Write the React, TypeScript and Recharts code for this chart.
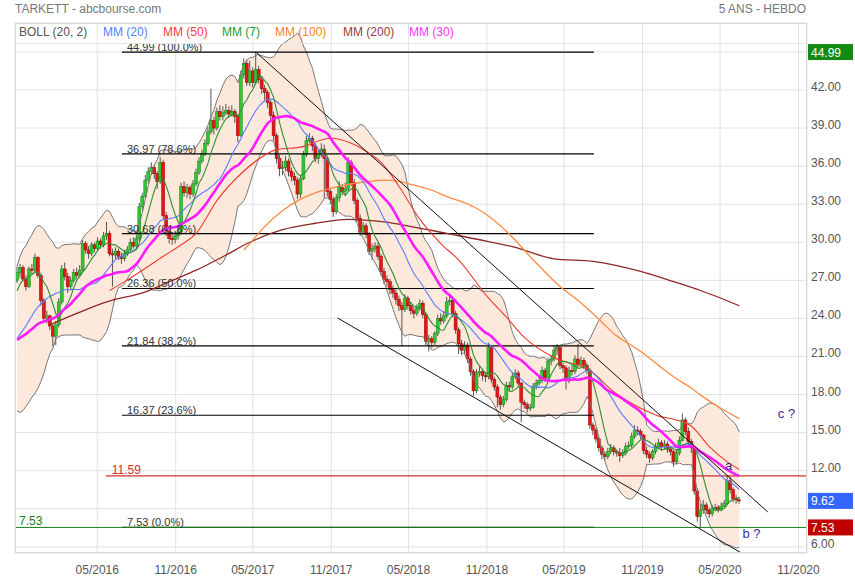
import React from "react";
import {
  ComposedChart,
  Bar,
  Line,
  Area,
  XAxis,
  YAxis,
  CartesianGrid,
  ReferenceLine,
  ReferenceDot,
} from "recharts";

const FONT = "'Liberation Sans', Arial, sans-serif";
const day = (s: string) => Date.parse(s + "T00:00:00Z");
const WEEK = 7 * 86400000;

// weekly candles, first week shown
const firstWeek = "2015-10-26";
const firstOpen = 27.0;

// closes of the weeks before the window (only feed the MM / BOLL at the left edge)
const closesBefore = [
  22.5, 22.8, 22.0, 21.6, 22.4, 22.2, 21.8, 21.9, 22.0, 21.5,
  21.0, 20.5, 20.0, 19.8, 20.2, 20.8, 21.2, 20.6, 20.0, 19.6,
  20.2, 20.8, 20.5, 24.0, 25.0, 26.0, 26.5, 26.8, 27.2,
];

const closes = [
  27.6, 28.0, 27.1, 26.5, 27.9, 27.8, 28.8, 27.4, 25.4, 24.0,
  24.2, 23.4, 22.6, 23.5, 25.3, 27.9, 27.3, 26.5, 27.0, 27.6,
  27.4, 27.8, 29.9, 29.4, 29.1, 29.8, 29.5, 30.1, 29.8, 30.5,
  30.7, 29.1, 29.0, 29.3, 28.9, 28.7, 29.1, 29.4, 30.0, 29.7,
  30.3, 32.8, 33.6, 34.9, 35.6, 35.9, 35.4, 34.8, 36.3, 32.1,
  30.9, 30.3, 30.2, 30.5, 30.8, 34.4, 33.9, 34.3, 33.8, 34.6,
  35.5, 36.4, 37.0, 37.8, 38.7, 39.6, 39.0, 40.3, 39.9, 40.2,
  40.4, 40.1, 40.3, 39.9, 38.4, 43.2, 44.1, 42.6, 43.5, 42.6,
  43.6, 42.8, 42.1, 41.8, 41.0, 40.0, 38.4, 36.6, 35.8, 35.9,
  36.4, 35.6, 35.2, 34.9, 33.8, 35.0, 36.9, 38.0, 38.2, 37.6,
  36.6, 36.9, 37.3, 36.6, 34.0, 33.4, 32.4, 33.5, 34.3, 34.0,
  34.2, 36.3, 34.7, 33.3, 31.9, 30.8, 31.3, 30.6, 29.3, 29.5,
  29.7, 28.9, 27.7, 27.1, 26.9, 26.3, 26.0, 25.5, 25.0, 24.7,
  25.6, 25.0, 24.6, 24.4, 24.8, 25.2, 24.3, 22.2, 22.4, 22.1,
  22.8, 24.0, 23.8, 24.2, 25.3, 25.4, 24.4, 23.1, 22.0, 21.5,
  21.9, 20.8, 19.8, 18.3, 19.7, 19.8, 19.5, 19.4, 21.7, 19.2,
  18.6, 17.8, 17.2, 17.6, 18.7, 18.6, 19.4, 19.7, 18.9, 17.4,
  17.2, 16.9, 17.0, 18.6, 18.9, 19.1, 19.9, 19.3, 20.6, 20.8,
  21.5, 21.7, 20.3, 20.1, 19.1, 19.9, 19.8, 20.8, 20.4, 20.7,
  20.3, 19.9, 15.6, 15.2, 14.5, 13.8, 13.3, 13.1, 13.5, 13.8,
  13.5, 13.4, 13.2, 13.4, 13.9, 14.0, 14.7, 15.2, 15.1, 14.8,
  13.6, 13.3, 13.0, 13.5, 13.9, 14.2, 13.9, 14.1, 13.7, 13.5,
  12.7, 13.4, 14.4, 16.0, 15.1, 14.3, 13.8, 10.4, 8.4, 8.9,
  9.3, 8.9, 8.6, 9.0, 9.1, 8.9, 9.2, 9.4, 11.2, 10.5,
  9.8, 9.7, 9.62,
];

const highs = [
  28.1, 28.3, 28.2, 27.4, 28.1, 28.3, 29.1, 28.9, 27.6, 25.6,
  24.6, 24.3, 23.6, 23.8, 25.6, 28.2, 28.4, 27.6, 27.3, 27.9,
  28.0, 28.2, 30.2, 30.1, 29.7, 30.0, 30.0, 30.4, 30.3, 30.8,
  31.6, 30.9, 29.5, 29.6, 29.5, 29.2, 29.4, 29.7, 30.3, 30.4,
  30.6, 33.1, 33.9, 35.3, 35.9, 36.3, 36.1, 35.6, 36.7, 36.5,
  32.4, 31.2, 30.8, 30.9, 31.2, 34.7, 34.8, 34.6, 34.5, 34.9,
  35.8, 36.7, 37.3, 38.1, 39.1, 42.1, 39.9, 40.6, 40.8, 40.7,
  40.9, 40.7, 40.8, 40.5, 40.1, 43.5, 44.5, 44.4, 44.3, 43.8,
  44.99, 43.9, 43.1, 42.4, 42.0, 41.2, 40.3, 38.6, 36.9, 36.4,
  36.8, 36.6, 35.9, 35.5, 35.1, 35.3, 37.2, 38.4, 38.6, 38.4,
  37.8, 37.3, 37.8, 37.7, 36.8, 34.3, 33.6, 33.8, 34.8, 34.6,
  34.7, 36.7, 36.5, 35.0, 33.5, 32.2, 31.6, 31.5, 30.8, 29.9,
  30.0, 30.0, 29.1, 28.0, 27.4, 27.1, 26.6, 26.3, 25.8, 25.3,
  25.9, 25.8, 25.3, 24.9, 25.1, 25.5, 25.4, 24.5, 22.7, 22.6,
  23.0, 24.3, 24.4, 24.6, 25.7, 25.9, 25.6, 24.6, 23.3, 22.3,
  22.2, 22.1, 21.0, 20.0, 20.0, 20.2, 20.0, 19.8, 22.1, 21.9,
  19.4, 18.8, 18.0, 17.9, 19.0, 19.0, 19.7, 20.0, 19.9, 19.0,
  17.6, 17.4, 17.3, 18.9, 19.2, 19.4, 20.2, 20.1, 20.9, 21.1,
  21.9, 22.0, 21.8, 20.5, 20.3, 20.2, 20.3, 21.1, 22.0, 21.0,
  20.9, 20.5, 20.1, 15.8, 15.4, 14.7, 14.0, 13.5, 13.8, 14.1,
  14.0, 13.7, 13.8, 13.7, 14.2, 14.3, 15.0, 15.6, 15.5, 15.3,
  14.9, 13.9, 13.5, 13.7, 14.2, 14.5, 14.4, 14.4, 14.3, 13.9,
  13.6, 13.7, 14.7, 16.5, 16.2, 15.4, 14.5, 13.9, 10.6, 9.4,
  9.7, 9.5, 9.1, 9.3, 9.4, 9.3, 9.5, 9.7, 11.6, 11.5,
  10.7, 10.1, 9.9,
];

const lows = [
  26.8, 27.2, 26.9, 26.2, 26.4, 27.5, 27.6, 27.2, 25.0, 23.8,
  23.6, 23.1, 21.8, 21.9, 23.3, 25.1, 27.0, 26.0, 26.2, 26.8,
  27.1, 27.2, 27.7, 29.1, 28.7, 28.9, 29.2, 29.3, 29.5, 29.6,
  30.2, 28.9, 26.5, 28.7, 28.6, 28.3, 28.5, 28.9, 29.2, 29.5,
  29.5, 30.1, 32.5, 33.4, 34.6, 35.3, 35.0, 34.2, 34.6, 31.8,
  30.5, 29.9, 29.8, 29.9, 30.2, 30.6, 33.6, 33.5, 33.4, 33.6,
  34.4, 35.3, 36.2, 36.8, 37.6, 38.5, 38.5, 38.8, 39.6, 39.6,
  40.0, 39.8, 39.9, 39.4, 37.9, 38.3, 42.9, 42.3, 42.3, 42.2,
  42.4, 42.5, 41.7, 41.2, 40.6, 39.7, 38.0, 36.2, 35.2, 35.3,
  35.6, 35.2, 34.8, 34.5, 33.4, 33.5, 34.9, 36.7, 37.8, 37.2,
  36.3, 36.2, 36.7, 33.5, 33.6, 33.0, 32.0, 32.2, 33.2, 33.7,
  33.8, 34.0, 34.4, 33.0, 31.6, 30.5, 30.6, 30.3, 29.0, 28.6,
  29.2, 28.6, 27.4, 26.7, 26.5, 25.9, 25.6, 25.1, 24.6, 21.8,
  24.5, 24.7, 24.3, 24.0, 24.2, 24.6, 24.0, 21.9, 21.4, 21.7,
  21.9, 22.6, 23.5, 23.6, 24.0, 25.0, 24.1, 22.8, 21.2, 21.1,
  21.2, 20.5, 19.5, 17.9, 18.1, 19.4, 19.1, 19.0, 19.2, 18.9,
  18.3, 17.0, 16.8, 17.0, 17.4, 18.3, 18.4, 19.2, 18.6, 15.8,
  16.9, 16.6, 16.7, 16.9, 18.4, 18.7, 18.9, 19.0, 19.1, 20.3,
  20.6, 21.1, 20.0, 19.7, 18.4, 18.9, 19.5, 19.6, 20.1, 20.2,
  20.0, 19.6, 15.3, 14.8, 14.2, 13.5, 12.9, 12.8, 12.9, 13.3,
  13.2, 13.1, 12.7, 13.0, 13.2, 13.7, 13.8, 14.5, 14.8, 14.5,
  13.3, 13.0, 12.6, 12.8, 13.3, 13.7, 13.6, 13.7, 13.4, 13.2,
  12.3, 12.5, 13.2, 14.3, 14.8, 14.0, 13.4, 10.1, 8.0, 7.53,
  8.6, 8.6, 8.3, 8.4, 8.8, 8.7, 8.8, 9.1, 9.3, 10.2,
  9.5, 9.4, 9.4,
];

// long averages: [week index, value]
const mm50Points = [
  [31, 26.2], [36, 26.9], [42, 27.8], [49, 28.9], [55, 29.8], [60, 30.7],
  [67, 33.3], [75, 35.4], [80, 36.4], [87, 37.3], [95, 37.5], [105, 38.2],
  [112, 37.8], [118, 37.0], [122, 36.3], [128, 34.4], [135, 31.8], [142, 29.9],
  [148, 28.6], [158, 25.6], [164, 24.1], [170, 22.5], [180, 20.9], [192, 19.9],
  [200, 18.2], [210, 16.8], [215, 16.3], [221, 16.0], [226, 15.5], [232, 13.9],
  [238, 12.7], [242, 12.1],
];
const mm100Points = [
  [76, 29.4], [78, 29.9], [82, 31.0], [89, 32.5], [95, 33.4], [100, 33.9],
  [106, 34.3], [112, 34.6], [118, 34.8], [123, 34.9], [128, 34.8], [133, 34.5],
  [139, 34.1], [144, 33.6], [149, 33.2], [153, 32.8], [160, 31.7], [166, 30.4],
  [173, 28.6], [178, 27.4], [182, 26.5], [187, 25.6], [191, 24.8], [196, 23.7],
  [200, 22.8], [205, 22.0], [209, 21.4], [215, 20.3], [220, 19.4], [226, 18.5],
  [230, 17.8], [236, 16.9], [242, 16.1],
];
const mm200Points = [
  [11, 23.5], [20, 24.4], [30, 25.3], [43, 26.1], [52, 27.0], [60, 27.8],
  [70, 29.0], [78, 30.0], [89, 31.0], [100, 31.5], [111, 31.8], [123, 31.6],
  [133, 31.2], [144, 30.7], [155, 30.2], [166, 29.65], [180, 28.7], [193, 28.5],
  [209, 27.7], [220, 26.9], [229, 26.2], [242, 25.0],
];

const xTicks = [
  "2016-05-01", "2016-11-01", "2017-05-01", "2017-11-01", "2018-05-01",
  "2018-11-01", "2019-05-01", "2019-11-01", "2020-05-01", "2020-11-01",
];
const yTicks = [6, 9, 12, 15, 18, 21, 24, 27, 30, 33, 36, 39, 42, 45];

const fibLevels = [44.99, 36.97, 30.68, 26.36, 21.84, 16.37, 7.53];
const fibPercents = ["100.0%", "78.6%", "61.8%", "50.0%", "38.2%", "23.6%", "0.0%"];
const fibFrom = "2016-06-28";
const fibTo = "2019-07-10";

// hand drawn trend channel
const channelLines = [
  [["2017-05-08", 44.99], ["2020-08-21", 8.75]],
  [["2017-11-16", 24.03], ["2020-06-28", 5.36]],
];

const notes = [
  { date: "2020-05-21", value: 12.45, text: "a" },
  { date: "2020-10-04", value: 16.55, text: "c ?" },
  { date: "2020-07-14", value: 7.09, text: "b ?" },
];

const legendItems = [
  { label: "BOLL (20, 2)", color: "#555", left: 19 },
  { label: "MM (20)", color: "#4f7fff", left: 103 },
  { label: "MM (50)", color: "#ff3b3b", left: 163 },
  { label: "MM (7)", color: "#1f9a1f", left: 222 },
  { label: "MM (100)", color: "#ff7f27", left: 275 },
  { label: "MM (200)", color: "#a33a3a", left: 343 },
  { label: "MM (30)", color: "#ff33ff", left: 409 },
];

const X_MIN = day("2015-10-21");
const X_MAX = day("2020-11-21");
const Y_MIN = 5.515;
const Y_MAX = 47.28;

const allCloses = [...closesBefore, ...closes];
const off = closesBefore.length;

function sma(n: number, k: number) {
  if (k - n + 1 < 0) return null;
  let s = 0;
  for (let j = k - n + 1; j <= k; j++) s += allCloses[j];
  return s / n;
}

function stdev(n: number, k: number, mean: number) {
  let s = 0;
  for (let j = k - n + 1; j <= k; j++) s += (allCloses[j] - mean) ** 2;
  return Math.sqrt(s / n);
}

const t0 = day(firstWeek);
const data: any[] = closes.map((c, i) => {
  const k = i + off;
  const m20 = sma(20, k) as number;
  const sd = stdev(20, k, m20);
  return {
    t: t0 + i * WEEK,
    o: i === 0 ? firstOpen : closes[i - 1],
    c,
    hl: [lows[i], highs[i]],
    mm7: sma(7, k),
    mm20: m20,
    mm30: sma(30, k),
    band: [m20 - 2 * sd, m20 + 2 * sd],
    bbUp: m20 + 2 * sd,
    bbLow: m20 - 2 * sd,
  };
});
mm50Points.forEach(([i, v]) => (data[i].mm50 = v));
mm100Points.forEach(([i, v]) => (data[i].mm100 = v));
mm200Points.forEach(([i, v]) => (data[i].mm200 = v));

function Candle(props: any) {
  const { x, y, width, height, payload } = props;
  if (!payload || height == null || isNaN(y)) return null;
  const [lo, hi] = payload.hl;
  const px = (v: number) => (hi === lo ? y : y + ((hi - v) / (hi - lo)) * height);
  const cx = x + width / 2;
  const up = payload.c >= payload.o;
  const top = px(Math.max(payload.o, payload.c));
  const bot = px(Math.min(payload.o, payload.c));
  return (
    <g>
      <line x1={cx} x2={cx} y1={y} y2={y + height} stroke="#555" strokeWidth={1} />
      <rect
        x={cx - 1.5}
        y={top}
        width={3}
        height={Math.max(bot - top, 1)}
        fill={up ? "#2ec82e" : "#e01818"}
        stroke={up ? "#1b801b" : "#a00000"}
        strokeWidth={0.5}
      />
    </g>
  );
}

function TextAt(props: any) {
  const { viewBox, text, dx = 0, dy = 0, color = "#333", size = 11, anchor = "start" } = props;
  if (!viewBox) return null;
  return (
    <text
      x={viewBox.x + dx}
      y={viewBox.y + dy}
      fill={color}
      fontSize={size}
      fontFamily={FONT}
      textAnchor={anchor}
    >
      {text}
    </text>
  );
}

function PriceBox(props: any) {
  const { viewBox, text, bg } = props;
  if (!viewBox) return null;
  return (
    <g>
      <rect x={viewBox.x + 1} y={viewBox.y - 8} width={45} height={16} fill={bg} />
      <text x={viewBox.x + 4} y={viewBox.y + 4.5} fill="#fff" fontSize={12} fontFamily={FONT}>
        {text}
      </text>
    </g>
  );
}

function RightTick(props: any) {
  const { x, y, payload } = props;
  if (payload.value === 45 || payload.value === 9) return <g />;
  return (
    <text x={x} y={y} dy={1} fill="#555" fontSize={12} fontFamily={FONT} textAnchor="start">
      {payload.value.toFixed(2)}
    </text>
  );
}

const fmtMonth = (t: number) => {
  const d = new Date(t);
  return `${String(d.getUTCMonth() + 1).padStart(2, "0")}/${d.getUTCFullYear()}`;
};

export default function App() {
  return (
    <div style={{ position: "absolute", left: 0, top: 0, width: 855, height: 580, background: "#fff", fontFamily: FONT }}>
      <ComposedChart
        width={855}
        height={580}
        data={data}
        margin={{ top: 23, right: 0, bottom: 0, left: 15 }}
      >
        <CartesianGrid stroke="#e2e2e2" />
        <XAxis
          dataKey="t"
          type="number"
          domain={[X_MIN, X_MAX]}
          allowDataOverflow
          ticks={xTicks.map(day)}
          tickFormatter={fmtMonth}
          height={27}
          axisLine={false}
          tickLine={false}
          tickSize={0}
          tickMargin={12}
          tick={{ fill: "#555", fontSize: 12, fontFamily: FONT }}
        />
        <YAxis
          orientation="right"
          type="number"
          domain={[Y_MIN, Y_MAX]}
          allowDataOverflow
          ticks={yTicks}
          width={48}
          axisLine={false}
          tickLine={false}
          tickSize={0}
          tickMargin={4}
          tick={<RightTick />}
        />

        <Area dataKey="band" fill="#fde8dc" fillOpacity={1} stroke="none" isAnimationActive={false} />
        <Line dataKey="bbUp" stroke="#777" strokeWidth={1} dot={false} isAnimationActive={false} />
        <Line dataKey="bbLow" stroke="#777" strokeWidth={1} dot={false} isAnimationActive={false} />

        {fibLevels.map((v, i) => (
          <ReferenceLine
            key={"fib" + i}
            segment={[
              { x: day(fibFrom), y: v },
              { x: day(fibTo), y: v },
            ]}
            stroke="#000"
            strokeWidth={1.2}
          />
        ))}
        <ReferenceLine segment={[{ x: day("2016-05-21"), y: 11.59 }, { x: X_MAX, y: 11.59 }]} stroke="#c00000" strokeWidth={1} />
        <ReferenceLine y={7.53} stroke="#1a801a" strokeWidth={1} />

        <Bar dataKey="hl" barSize={3} shape={<Candle />} isAnimationActive={false} />

        <Line dataKey="mm200" type="monotone" connectNulls stroke="#8f2626" strokeWidth={1.3} dot={false} isAnimationActive={false} />
        <Line dataKey="mm100" type="monotone" connectNulls stroke="#ff8a3d" strokeWidth={1.3} dot={false} isAnimationActive={false} />
        <Line dataKey="mm50" type="monotone" connectNulls stroke="#f03a2a" strokeWidth={1.1} dot={false} isAnimationActive={false} />
        <Line dataKey="mm20" stroke="#5a7cff" strokeWidth={1.1} dot={false} isAnimationActive={false} />
        <Line dataKey="mm7" stroke="#2d8f2d" strokeWidth={1.1} dot={false} isAnimationActive={false} />
        <Line dataKey="mm30" stroke="#ff1aff" strokeWidth={2.6} dot={false} isAnimationActive={false} />

        {channelLines.map((seg, i) => (
          <ReferenceLine
            key={"ch" + i}
            segment={seg.map(([d, v]) => ({ x: day(d as string), y: v as number }))}
            stroke="#111"
            strokeWidth={1}
            ifOverflow="hidden"
          />
        ))}

        {fibLevels.map((v, i) => (
          <ReferenceDot
            key={"fibl" + i}
            x={day(fibFrom)}
            y={v}
            r={0}
            ifOverflow="visible"
            label={<TextAt text={`${v.toFixed(2)}  (${fibPercents[i]})`} dx={5} dy={-1} color="#333" size={11} />}
          />
        ))}
        <ReferenceDot x={day("2016-05-21")} y={11.59} r={0} label={<TextAt text="11.59" dx={6} dy={-2} color="#d03030" size={12} />} />
        <ReferenceDot x={X_MIN} y={7.53} r={0} ifOverflow="visible" label={<TextAt text="7.53" dx={4} dy={-2} color="#1a801a" size={12} />} />

        {notes.map((n) => (
          <ReferenceDot
            key={n.text}
            x={day(n.date)}
            y={n.value}
            r={0}
            label={<TextAt text={n.text} dy={5} color="#333399" size={13} anchor="middle" />}
          />
        ))}

        <ReferenceDot x={X_MAX} y={44.99} r={0} ifOverflow="visible" label={<PriceBox text="44.99" bg="#138a13" />} />
        <ReferenceDot x={X_MAX} y={9.62} r={0} ifOverflow="visible" label={<PriceBox text="9.62" bg="#3366ff" />} />
        <ReferenceDot x={X_MAX} y={7.53} r={0} ifOverflow="visible" label={<PriceBox text="7.53" bg="#c00000" />} />
      </ComposedChart>

      <div style={{ position: "absolute", left: 15, top: 23, width: 792, height: 530, border: "1px solid #d8d8d8", boxSizing: "border-box", pointerEvents: "none" }} />
      <div style={{ position: "absolute", left: 15, top: 43, width: 792, height: 1, background: "#e6e6e6", pointerEvents: "none" }} />
      <div style={{ position: "absolute", left: 15, top: 2, fontSize: 12, lineHeight: "14px", color: "#777" }}>
        TARKETT - abcbourse.com
      </div>
      <div style={{ position: "absolute", right: 49, top: 2, fontSize: 12, lineHeight: "14px", color: "#777" }}>
        5 ANS - HEBDO
      </div>
      {legendItems.map((it) => (
        <div
          key={it.label}
          style={{ position: "absolute", left: it.left, top: 25, fontSize: 12, lineHeight: "14px", color: it.color, whiteSpace: "nowrap" }}
        >
          {it.label}
        </div>
      ))}
    </div>
  );
}
